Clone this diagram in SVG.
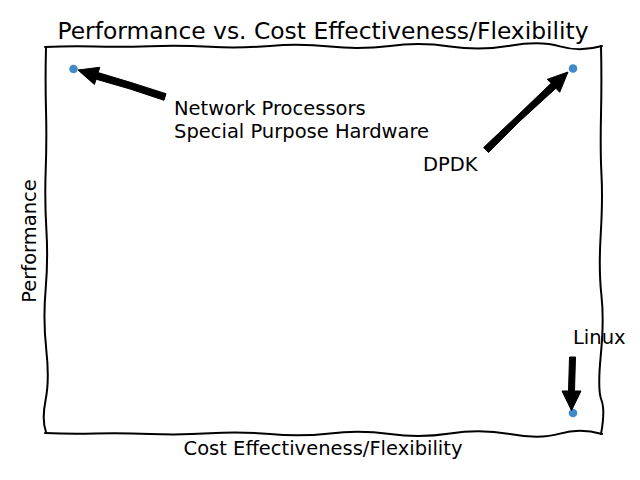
<svg xmlns="http://www.w3.org/2000/svg" width="640" height="480" viewBox="0 0 640 480">
<style>
text{font-family:"DejaVu Sans","Noto Sans",sans-serif;fill:#000}
.lbl{font-size:19.5px}
.ttl{font-size:23.4px}
.frame{fill:none;stroke:#000;stroke-width:2;stroke-linejoin:round;stroke-linecap:round}
.pt{fill:#4189c7}
.arr{fill:#000;stroke:#000;stroke-width:1;stroke-linejoin:round}
</style>
<rect width="640" height="480" fill="#fff"/>
<text class="ttl" x="323" y="39" text-anchor="middle">Performance vs. Cost Effectiveness/Flexibility</text>
<g id="axes">
<path class="frame" d="M45,47 Q70,45.8 95,46.5 T150,46.2 T210,46.8 T270,45.9 T330,46.6 T390,45.9 T450,46.5 T510,45.8 T560,46.4 T602,46"/>
<path class="frame" d="M45,433 Q70,434.2 95,433.5 T150,434 T210,433.3 T270,434.1 T330,433.4 T390,434.1 T450,433.5 T510,434.1 T560,433.6 T602,434"/>
<path class="frame" d="M46,48 Q45.2,80 46,110 T45.7,170 T46.4,230 T45.6,290 T46.3,350 T45.6,400 T46,432"/>
<path class="frame" d="M601,46 Q601.8,80 601,115 T601.5,175 T600.7,235 T601.4,295 T600.8,355 T601.4,400 T601,434"/>
</g>
<text class="lbl" x="323" y="455" text-anchor="middle">Cost Effectiveness/Flexibility</text>
<text class="lbl" transform="translate(36,241) rotate(-90)" text-anchor="middle">Performance</text>
<g id="points">
<circle class="pt" cx="73.5" cy="69" r="4.3"/>
<circle class="pt" cx="573" cy="68.5" r="4.3"/>
<circle class="pt" cx="573" cy="413" r="4.3"/>
</g>
<g id="connectors">
<polygon class="arr" points="78,70 99.8,67.3 98.1,72.6 131,82.5 166,93.7 164,100.3 130,89 96.1,79.2 94.4,84.5"/>
<polygon class="arr" points="568,72 559.7,92.3 555.9,88.3 520,121 488.4,152.5 483.6,147.5 517,116 551.1,83.3 547.3,79.3"/>
<polygon class="arr" points="571.5,410.5 562,391 568.5,391 569,374 569.5,357 575.5,357 575,374 574.5,391 581,391"/>
</g>
<g id="labels">
<text class="lbl" x="174" y="114.5">Network Processors</text>
<text class="lbl" x="174" y="137.5">Special Purpose Hardware</text>
<text class="lbl" x="423" y="171">DPDK</text>
<text class="lbl" x="573" y="344">Linux</text>
</g>
</svg>
